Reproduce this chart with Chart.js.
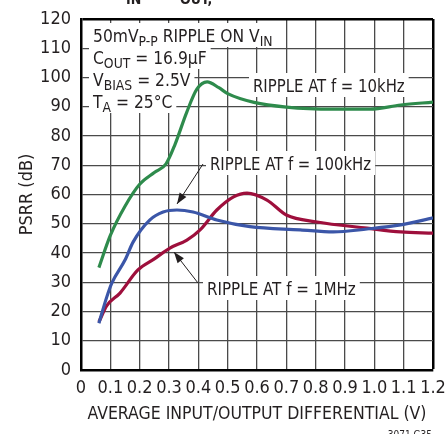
<!DOCTYPE html>
<html>
<head>
<meta charset="utf-8">
<script src="https://cdn.jsdelivr.net/npm/chart.js@4"></script>
<style>
  html, body { margin: 0; padding: 0; background: #fff; }
  #wrap { width: 446px; height: 434px; position: relative; }
</style>
</head>
<body>
<div id="wrap"><canvas id="psrr"></canvas></div>
<script>
// data
const x10k = [0.061, 0.1, 0.15, 0.2, 0.25, 0.29, 0.32, 0.36, 0.395, 0.43, 0.47, 0.5, 0.59, 0.7, 0.86, 0.985, 1.09, 1.2];
const y10k = [35, 46, 56, 63.5, 67.5, 70.5, 77, 88, 96, 98.5, 96.5, 94.5, 91.5, 89.9, 89.2, 89.2, 90.6, 91.6];

const x100k = [0.061, 0.088, 0.105, 0.15, 0.178, 0.235, 0.28, 0.327, 0.382, 0.463, 0.576, 0.747, 0.86, 0.975, 1.09, 1.2];
const y100k = [16, 25, 29.7, 37.6, 43.8, 51.3, 54, 54.7, 54, 51.3, 49, 47.9, 47.2, 48.2, 49.6, 52];

const x1M = [0.061, 0.088, 0.133, 0.194, 0.25, 0.303, 0.361, 0.406, 0.463, 0.52, 0.566, 0.634, 0.7, 0.805, 0.975, 1.09, 1.2];
const y1M = [16.4, 22, 26.3, 34.2, 38, 41.7, 44.4, 47.9, 54.7, 59.2, 60.5, 58.1, 53, 50.6, 48.5, 47.2, 46.8];

const xTicks = [0, 0.1, 0.2, 0.3, 0.4, 0.5, 0.6, 0.7, 0.8, 0.9, 1.0, 1.1, 1.2];
const yTicks = [0, 10, 20, 30, 40, 50, 60, 70, 80, 90, 100, 110, 120];

const FONT = '"Liberation Sans Narrow", "DejaVu Sans Condensed", "Roboto Condensed", sans-serif';

function pts(xs, ys) {
    return xs.map((x, i) => ({ x: x, y: ys[i] }));
}

function richWidth(ctx, segs, size) {
    let w = 0;
    segs.forEach(s => {
        ctx.font = (s[1] ? size * 0.8 : size) + 'px ' + FONT;
        w += ctx.measureText(s[0]).width;
    });
    return w;
}

// white box behind a text line, k = horizontal squeeze
function richBg(ctx, segs, x, y, size, k) {
    const w = richWidth(ctx, segs, size) * k;
    ctx.fillStyle = '#fff';
    ctx.fillRect(x - 4, y - size - 1, w + 8, size + 6);
}

// text with subscripts, segments: [text, isSub]
function richText(ctx, segs, x, y, size, k) {
    ctx.save();
    ctx.translate(x, y);
    ctx.scale(k, 1);
    ctx.fillStyle = '#231f20';
    ctx.textBaseline = 'alphabetic';
    ctx.textAlign = 'left';
    let cx = 0;
    segs.forEach(s => {
        ctx.font = (s[1] ? size * 0.8 : size) + 'px ' + FONT;
        ctx.fillText(s[0], cx, s[1] ? 4 : 0);
        cx += ctx.measureText(s[0]).width;
    });
    ctx.restore();
}

function arrow(ctx, x1, y1, x2, y2) {
    ctx.strokeStyle = '#231f20';
    ctx.fillStyle = '#231f20';
    ctx.lineWidth = 1;
    ctx.beginPath();
    ctx.moveTo(x1, y1);
    ctx.lineTo(x2, y2);
    ctx.stroke();
    const a = Math.atan2(y2 - y1, x2 - x1);
    const L = 11, W = 4;
    ctx.beginPath();
    ctx.moveTo(x2, y2);
    ctx.lineTo(x2 - L * Math.cos(a) + W * Math.sin(a), y2 - L * Math.sin(a) - W * Math.cos(a));
    ctx.lineTo(x2 - L * Math.cos(a) - W * Math.sin(a), y2 - L * Math.sin(a) + W * Math.cos(a));
    ctx.closePath();
    ctx.fill();
}

const labels = [
    { segs: [['50mV'], ['P-P', 1], [' RIPPLE ON V'], ['IN', 1]], x: 93, y: 42, k: 0.96 },
    { segs: [['C'], ['OUT', 1], [' = 16.9µF']], x: 93, y: 64, k: 0.96 },
    { segs: [['V'], ['BIAS', 1], [' = 2.5V']], x: 93, y: 86, k: 0.96 },
    { segs: [['T'], ['A', 1], [' = 25°C']], x: 93, y: 108, k: 0.96 },
    { segs: [['RIPPLE AT f = 10kHz']], x: 253, y: 92, k: 0.92 },
    { segs: [['RIPPLE AT f = 100kHz']], x: 210, y: 170, k: 0.92 },
    { segs: [['RIPPLE AT f = 1MHz']], x: 207, y: 295, k: 0.935 }
];

const notes = {
    id: 'notes',
    beforeDatasetsDraw(chart) {
        const ctx = chart.ctx;
        ctx.save();
        labels.forEach(l => richBg(ctx, l.segs, l.x, l.y, 18, l.k));
        labels.forEach(l => richText(ctx, l.segs, l.x, l.y, 18, l.k));
        arrow(ctx, 203, 164, 177, 204);
        arrow(ctx, 198, 283, 174, 252);
        ctx.restore();
    },
    afterDraw(chart) {
        const ctx = chart.ctx;
        ctx.save();
        ctx.fillStyle = '#231f20';
        ctx.textBaseline = 'alphabetic';
        ctx.font = 'bold 14px ' + FONT;
        ctx.fillText('IN', 126, 4);
        ctx.fillText('OUT,', 180, 4);
        ctx.font = '10px ' + FONT;
        ctx.textAlign = 'right';
        ctx.fillText('3071 G35', 432, 438);
        ctx.restore();
    }
};

const edgeWidth = (ctx, edge) => ctx.tick && ctx.tick.value === edge ? 2.5 : 1.3;
const edgeColor = (ctx, edge) => ctx.tick && ctx.tick.value === edge ? '#000' : '#4a4a4a';

const ctx = document.getElementById('psrr').getContext('2d');
new Chart(ctx, {
    type: 'line',
    data: {
        datasets: [
            { label: '10kHz', data: pts(x10k, y10k), borderColor: '#2e8b4c' },
            { label: '100kHz', data: pts(x100k, y100k), borderColor: '#3b56a8' },
            { label: '1MHz', data: pts(x1M, y1M), borderColor: '#9e0f3c' }
        ]
    },
    options: {
        responsive: true,
        maintainAspectRatio: false,
        animation: false,
        elements: {
            line: { borderWidth: 3.2, tension: 0.4, cubicInterpolationMode: 'monotone' },
            point: { radius: 0 }
        },
        layout: { padding: { left: 0, top: 19, right: 13, bottom: 0 } },
        plugins: { legend: { display: false }, tooltip: { enabled: false } },
        scales: {
            x: {
                type: 'linear',
                min: 0,
                max: 1.2,
                afterFit: s => { s.height = 64; s.paddingLeft = 0; s.paddingRight = 0; },
                afterBuildTicks: s => { s.ticks = xTicks.map(v => ({ value: v })); },
                ticks: {
                    padding: 8,
                    color: '#231f20',
                    font: { family: FONT, size: 18 },
                    maxRotation: 0,
                    autoSkip: false,
                    callback: v => v === 0 ? '0' : v.toFixed(1)
                },
                grid: {
                    drawTicks: false,
                    color: c => edgeColor(c, 1.2),
                    lineWidth: c => edgeWidth(c, 1.2)
                },
                border: { color: '#000', width: 2.5 },
                title: {
                    display: true,
                    text: 'AVERAGE INPUT/OUTPUT DIFFERENTIAL (V)',
                    color: '#231f20',
                    font: { family: FONT, size: 17.5 },
                    padding: { top: 0, bottom: 9 }
                }
            },
            y: {
                min: 0,
                max: 120,
                afterFit: s => { s.width = 81; s.paddingTop = 0; s.paddingBottom = 0; },
                afterBuildTicks: s => { s.ticks = yTicks.map(v => ({ value: v })); },
                ticks: {
                    padding: 10,
                    color: '#231f20',
                    font: { family: FONT, size: 18 }
                },
                grid: {
                    drawTicks: false,
                    color: c => edgeColor(c, 120),
                    lineWidth: c => edgeWidth(c, 120)
                },
                border: { color: '#000', width: 2.5 },
                title: {
                    display: true,
                    text: 'PSRR (dB)',
                    color: '#231f20',
                    font: { family: FONT, size: 18 },
                    padding: { top: 17, bottom: 0 }
                }
            }
        }
    },
    plugins: [notes]
});
</script>
</body>
</html>
